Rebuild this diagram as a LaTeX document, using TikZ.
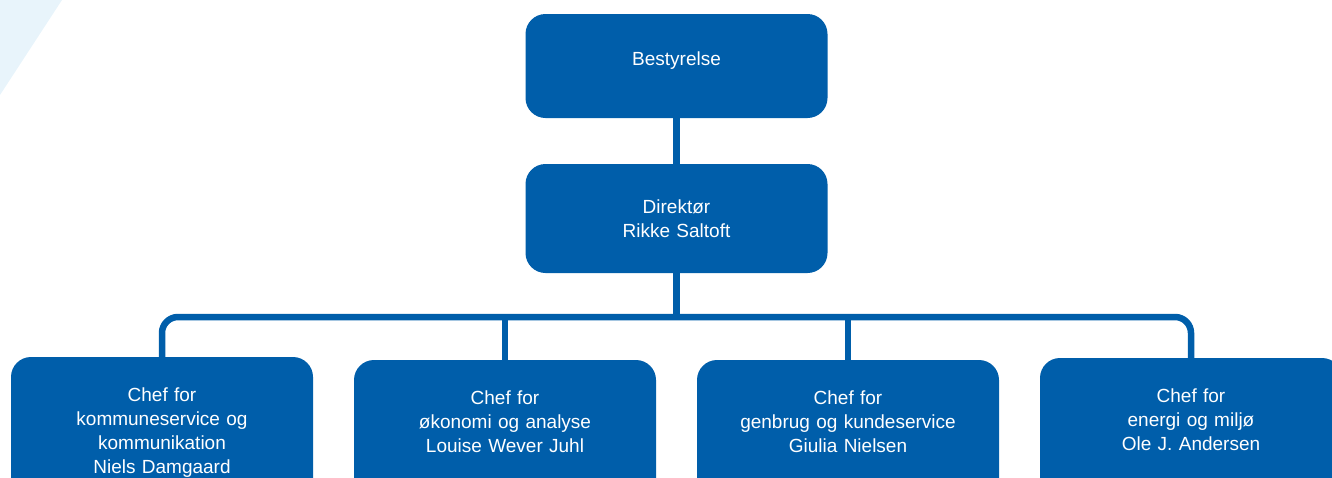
\documentclass[tikz,border=0pt]{standalone}
\usepackage{fontspec}
\setmainfont{Liberation Sans}
\usepackage{tikz}
\usetikzlibrary{positioning,calc}
\definecolor{blaa}{RGB}{0,94,170}
\definecolor{lyseblaa}{RGB}{232,244,251}
\tikzset{every picture/.style={line width=6.5pt}}
\tikzstyle{boks}=[rectangle,rounded corners=20pt,fill=blaa,draw=none,text=white,
  minimum width=302pt,text width=290pt,align=center,inner ysep=31pt,outer sep=0pt,
  font=\fontsize{19pt}{24pt}\selectfont]
\tikzstyle{linje}=[draw=blaa,line width=6.5pt]

\begin{document}
\begin{tikzpicture}[x=1pt,y=-1pt]
\useasboundingbox (0,0) rectangle (1332,477);
\fill[lyseblaa] (0,0) -- (62,0) -- (0,95) -- cycle;
\node[boks,minimum height=104pt,text depth=14pt] (B) at (676.5,66) {Bestyrelse};
\node[boks,minimum height=109pt] (D) at (676.5,218.5) {Direktør\\Rikke Saltoft};
\node[boks,anchor=north] (C1) at (162,357) {Chef for\\kommuneservice og\\kommunikation\\Niels Damgaard};
\node[boks,anchor=north,text depth=80pt] (C2) at (505,360) {Chef for\\økonomi og analyse\\Louise Wever Juhl};
\node[boks,anchor=north,text depth=80pt] (C3) at (848,360) {Chef for\\genbrug og kundeservice\\Giulia Nielsen};
\node[boks,anchor=north,text depth=80pt] (C4) at (1191,358) {Chef for\\energi og miljø\\Ole J. Andersen};
\coordinate (S) at (677,317);
\path[linje]
(B) edge (D)
(D) edge (D |- S)
(C2) edge (C2 |- S)
(C3) edge (C3 |- S);
\draw[linje,rounded corners=16pt] (C1.north) -- (C1.north |- S) -- (C4.north |- S) -- (C4.north);
\end{tikzpicture}
\end{document}
